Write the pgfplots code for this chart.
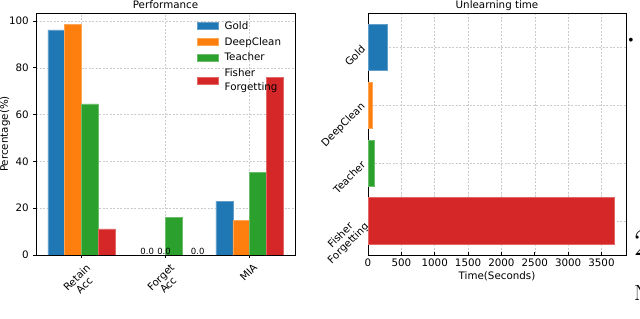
\documentclass[border=0pt]{standalone}
\usepackage{fontspec}
\setmainfont{DejaVu Sans}
\newfontfamily\lmr{Latin Modern Roman}
\usepackage{graphicx}
\usepackage{pgfplots}
\pgfplotsset{compat=1.18}
\definecolor{cblue}{HTML}{1F77B4}
\definecolor{corange}{HTML}{FF7F0E}
\definecolor{cgreen}{HTML}{2CA02C}
\definecolor{cred}{HTML}{D62728}
\newcommand{\tl}[1]{\rotatebox{45}{\renewcommand{\arraystretch}{0.9}\begin{tabular}{@{}c@{}}#1\end{tabular}}}
\begin{document}
\begin{tikzpicture}
\path[use as bounding box] (0bp,0bp) rectangle (640bp,319bp);
\pgfplotsset{common/.style={scale only axis,
  axis line style={line width=0.8bp},
  grid=major, grid style={gray!40, line width=0.5bp, dash pattern=on 2bp off 1.5bp},
  tick style={black, line width=0.6bp}, major tick length=3bp,
  xtick pos=bottom, ytick pos=left,
  font=\fontsize{10.3bp}{11bp}\selectfont,
  /pgf/number format/assume math mode=true, /pgf/number format/1000 sep={},
  every axis title/.style={at={(0.5,1)}, anchor=base, yshift=4.5bp, inner sep=0pt}}}

\begin{axis}[common, at={(36bp,64bp)}, anchor=south west, width=259bp, height=242bp,
  xmin=-0.54, xmax=2.54, ymin=0, ymax=103.4,
  ybar, bar width=0.2,
  legend image code/.code={\draw[#1] (0bp,-3.5bp) rectangle (21bp,3.5bp);},
  xtick={0,1,2}, xticklabels={{\tl{Retain\\Acc}},{\tl{Forget\\Acc}},{\tl{MIA}}},
  xticklabel style={anchor=north, inner sep=0pt, yshift=-5bp},
  ytick={0,20,...,100}, yticklabel style={inner sep=0pt, xshift=-4bp},
  tick align=outside,
  title={Performance}, ylabel={Percentage(\%)},
  ylabel style={at={(axis description cs:-0.12,0.5)}, anchor=center},
  legend style={draw=none, fill=none, at={(0.622,0.97)}, anchor=north west,
    inner sep=0pt, row sep=4.5bp, column sep=5bp,
    nodes={inner sep=1bp},
    cells={anchor=west, align=left}},
  every node near coord/.style={anchor=south west, inner sep=0pt, yshift=0.5bp, font=\fontsize{8.5bp}{9bp}\selectfont},
]
\addplot[bar shift=-0.3, fill=cblue, draw=cblue!70!white, line width=0.4bp] coordinates {(0,96.2) (1,0) (2,23.0)};
\addlegendentry{\strut Gold}
\addplot[bar shift=-0.1, fill=corange, draw=corange!70!white, line width=0.4bp] coordinates {(0,98.5) (1,0) (2,14.7)};
\addlegendentry{\strut DeepClean}
\addplot[bar shift=0.1, fill=cgreen, draw=cgreen!70!white, line width=0.4bp] coordinates {(0,64.6) (1,16.0) (2,35.4)};
\addlegendentry{\strut Teacher}
\addplot[bar shift=0.3, fill=cred, draw=cred!70!white, line width=0.4bp] coordinates {(0,11.2) (1,0) (2,76.0)};
\addlegendentry{\strut Fisher\\[1.5bp]\strut Forgetting}
\addplot[forget plot, bar shift=0, draw=none, fill=none, nodes near coords={0.0}] coordinates {(0.7,0) (0.9,0) (1.3,0)};
\end{axis}

\begin{axis}[common, at={(368bp,64bp)}, anchor=south west, width=258bp, height=242bp,
  xbar, bar width=0.8,
  xmin=0, xmax=3868, ymin=-0.59, ymax=3.59, y dir=reverse,
  ytick={0,1,2,3}, yticklabels={Gold,DeepClean,Teacher,{Fisher\\Forgetting}},
  yticklabel style={xshift=-4.5bp, rotate=45, anchor=east, align=center, inner sep=0pt},
  xtick={0,500,...,3500}, xticklabel style={inner sep=0pt, yshift=-4bp},
  tick align=inside,
  xlabel={Time(Seconds)},
  xlabel style={at={(axis description cs:0.5,-0.087)}, anchor=center},
  title={Unlearning time},
]
\addplot[bar shift=0, fill=cblue, draw=cblue!70!white, line width=0.4bp] coordinates {(284,0)};
\addplot[bar shift=0, fill=corange, draw=corange!70!white, line width=0.4bp] coordinates {(60,1)};
\addplot[bar shift=0, fill=cgreen, draw=cgreen!70!white, line width=0.4bp] coordinates {(100,2)};
\addplot[bar shift=0, fill=cred, draw=cred!70!white, line width=0.4bp] coordinates {(3684,3)};
\end{axis}

\node[anchor=center, inner sep=0pt, font=\lmr\fontsize{14bp}{14bp}\selectfont] at (631bp,278bp) {\textbullet};
\node[anchor=base west, inner sep=0pt, font=\lmr\fontsize{38bp}{38bp}\selectfont] at (634bp,63bp) {2};
\node[anchor=base west, inner sep=0pt, font=\lmr\fontsize{22bp}{22bp}\selectfont] at (634bp,19bp) {N};
\end{tikzpicture}
\end{document}
